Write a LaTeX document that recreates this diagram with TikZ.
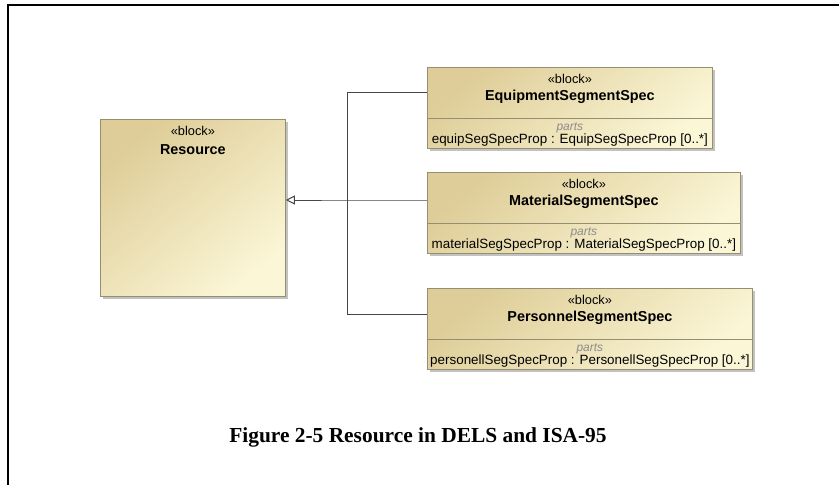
\documentclass[tikz,border=0pt]{standalone}
\usepackage{fontspec}
\setmainfont{Liberation Serif}
\setsansfont{Liberation Sans}
\usetikzlibrary{arrows.meta}
\usetikzlibrary{shadows}

\definecolor{blocktan}{RGB}{222,205,152}
\definecolor{blockcream}{RGB}{251,246,214}
\definecolor{blockedge}{RGB}{150,142,112}
\definecolor{linkgray}{RGB}{70,70,70}

\begin{document}
\begin{tikzpicture}[x=1pt, y=-1pt,
  blockbox/.style={draw=blockedge, line width=.8pt, anchor=north west, inner sep=0pt,
    top color=blocktan, bottom color=blockcream, shading angle=40,
    drop shadow={shadow xshift=2.5pt, shadow yshift=-2.5pt, fill=black!40, opacity=.6}},
  stereo/.style={inner sep=0pt, font=\sffamily\fontsize{12.8}{13}\selectfont},
  blockname/.style={inner sep=0pt, font=\sffamily\bfseries\fontsize{14.4}{15}\selectfont},
  compart/.style={inner sep=0pt, text=black!45, font=\sffamily\itshape\fontsize{12}{13}\selectfont},
  prop/.style={inner sep=0pt, font=\sffamily\fontsize{13.4}{14}\selectfont},
  link/.style={draw=linkgray, line width=1pt}]
\useasboundingbox (0,0) rectangle (839,485);

% frame
\draw[line width=1.3pt] (8,485) -- (8,5) -- (839,5);

% general block
\node[blockbox, minimum width=185pt, minimum height=177pt] (resource) at (100,119) {};
\node[stereo] (resourceStereo) at ([yshift=-12pt]resource.north) {«block»};
\node[blockname] (resourceName) at ([yshift=-31pt]resource.north) {Resource};

% specialised blocks
\foreach \blk/\ty/\bw/\nm/\pr in {
  equip/67/285/EquipmentSegmentSpec/{equipSegSpecProp : EquipSegSpecProp [0..*]},
  material/172/313/MaterialSegmentSpec/{materialSegSpecProp : MaterialSegSpecProp [0..*]},
  personnel/288/325/PersonnelSegmentSpec/{personellSegSpecProp : PersonellSegSpecProp [0..*]}} {
  \node[blockbox, minimum width=\bw pt, minimum height=81pt] (\blk) at (427,\ty) {};
  \node[stereo] (\blk Stereo) at ([yshift=-12pt]\blk.north) {«block»};
  \node[blockname] (\blk Name) at ([yshift=-30pt]\blk.north) {\nm};
  \draw[blockedge, line width=.8pt] ([yshift=-51pt]\blk.north west) -- ([yshift=-51pt]\blk.north east);
  \node[compart] (\blk Parts) at ([yshift=-61pt]\blk.north) {parts};
  \node[prop] (\blk Prop) at ([yshift=-73pt]\blk.north) {\pr};
}

% generalisation
\coordinate (trunk) at (347,200);
\draw[link] ([yshift=-25pt]equip.north west) -| (trunk);
\draw[link] ([yshift=-26pt]personnel.north west) -| (trunk);
\draw[link, -{Triangle[open, length=9pt, width=9pt]}] ([yshift=-28pt]material.north west) -- (trunk) -- (resource.east |- trunk);

% caption
\node[anchor=base, inner sep=0pt, font=\bfseries\fontsize{21.4}{24}\selectfont] (caption) at (418,442) {Figure 2-5 Resource in DELS and ISA-95};
\end{tikzpicture}
\end{document}
